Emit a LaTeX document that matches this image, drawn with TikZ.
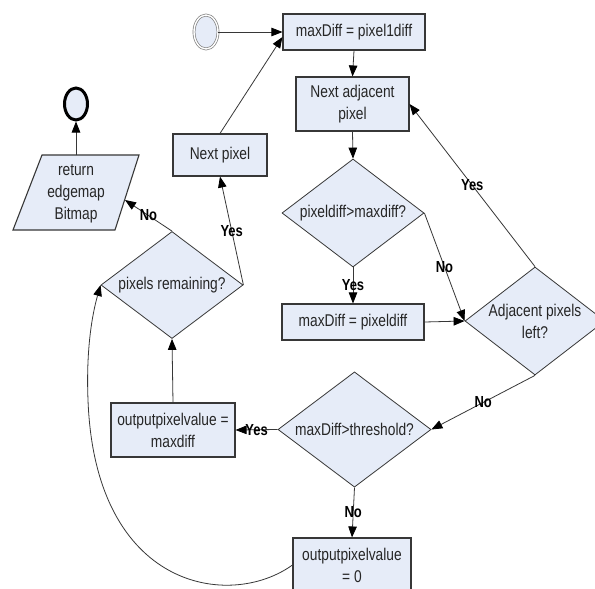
\documentclass[tikz,border=0pt]{standalone}
\usepackage{fontspec}
\setmainfont{Liberation Sans}[FakeStretch=0.81]
\usetikzlibrary{shapes.geometric,arrows.meta,calc}
\definecolor{boxfill}{RGB}{230,236,248}
\definecolor{edgec}{RGB}{55,55,55}
\begin{document}
\begin{tikzpicture}[x=1pt,y=-1pt,
  every node/.style={font=\fontsize{17}{22}\selectfont, text=black!85},
  box/.style={draw=edgec, line width=1.1pt, fill=boxfill, rectangle, inner sep=0pt, align=center},
  dia/.style={draw=edgec, line width=0.8pt, fill=boxfill, diamond, inner sep=-4pt, align=center},
  arr/.style={draw=edgec, line width=0.8pt, -{Triangle[length=11pt,width=8.5pt,color=black]}},
  lbl/.style={font=\fontsize{16}{18}\selectfont\bfseries, text=black, inner sep=0pt}]
\clip (0,0) rectangle (595,589);
\fill[white] (0,0) rectangle (595,589);
% nodes
\node[ellipse, draw=gray, double=white, double distance=1.4pt, fill=boxfill, line width=0.7pt,
      minimum width=24pt, minimum height=34pt, inner sep=0pt] (start) at (206,32) {};
\node[ellipse, draw=black, line width=3pt, fill=boxfill,
      minimum width=23pt, minimum height=32pt, inner sep=0pt] (stop) at (76,104) {};
\node[box, minimum width=142pt, minimum height=36pt] (A) at (354,32) {maxDiff = pixel1diff};
\node[box, minimum width=113pt, minimum height=54pt] (B) at (352.5,104) {Next adjacent\\pixel};
\node[dia, minimum width=142pt, minimum height=108pt] (C) at (353,213) {pixeldiff>maxdiff?};
\node[box, minimum width=142pt, minimum height=36pt] (D) at (353,322) {maxDiff = pixeldiff};
\node[dia, inner sep=-10pt, minimum width=140pt, minimum height=108pt] (E) at (535,321) {Adjacent pixels\\left?};
\node[dia, minimum width=153pt, minimum height=107pt] (F) at (354.5,429.5) {maxDiff>threshold?};
\node[box, minimum width=124pt, minimum height=54pt] (G) at (173,430) {outputpixelvalue =\\maxdiff};
\node[box, minimum width=118pt, minimum height=54pt] (H) at (352,565) {outputpixelvalue\\= 0};
\node[dia, minimum width=142pt, minimum height=106pt] (I) at (172,285) {pixels remaining?};
\node[box, minimum width=94pt, minimum height=42pt] (J) at (220,155) {Next pixel};
\draw[edgec, line width=1.1pt, fill=boxfill] (42,155) -- (139,155) -- (115,230) -- (13,230) -- cycle;
\node[align=center, inner sep=0pt] (ret) at (76,194) {return\\edgemap\\Bitmap};
\coordinate (retT) at (76,155);
\coordinate (retR) at (125,200);
\coordinate (Ain) at ($(A.west)+(0,5)$);
\coordinate (loopL) at (88,400);
% connectors
\draw[arr] (start.east) -- (A.west);
\draw[arr] (A.south) -- (B.north);
\draw[arr] (B.south) -- (C.north);
\draw[arr] (C.south) -- node[lbl]{Yes} (D.north);
\draw[arr] (C.east) -- node[lbl]{No} (E.west);
\draw[arr] (D.east) -- (E.west);
\draw[arr] (E.north) -- node[lbl]{Yes} (B.east);
\draw[arr] (E.south) -- node[lbl]{No} (F.east);
\draw[arr] (F.west) -- node[lbl]{Yes} (G.east);
\draw[arr] (F.south) -- node[lbl]{No} (H.north);
\draw[arr] (G.north) -- (I.south);
\draw[arr] (I.east) -- node[lbl]{Yes} (J.south);
\draw[arr] (J.north) -- (Ain);
\draw[arr] (I.north) -- node[lbl]{No} (retR);
\draw[arr] (retT) -- (stop.south);
\draw[arr] (H.west) .. controls (230,610) and (95,590) .. (loopL) .. controls (86,350) and (92,315) .. (I.west);
\end{tikzpicture}
\end{document}
